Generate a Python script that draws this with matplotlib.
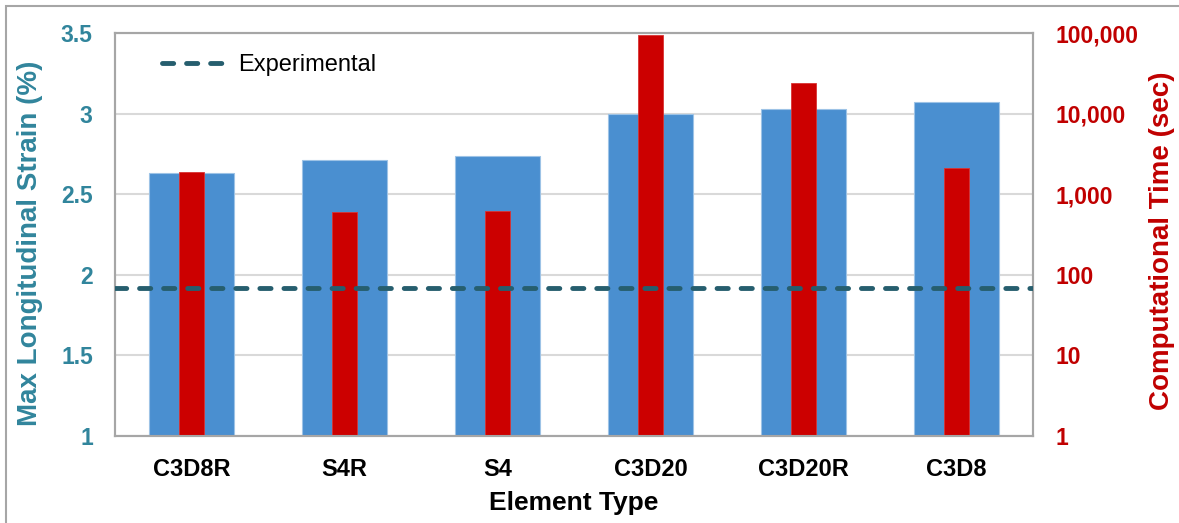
import matplotlib
matplotlib.use("Agg")
import matplotlib.pyplot as plt
import matplotlib.transforms as mtransforms
from matplotlib.patches import Rectangle
from matplotlib.ticker import FuncFormatter, FixedLocator, NullLocator
import numpy as np

plt.rcParams["font.family"] = ["Liberation Sans", "DejaVu Sans"]

elements = ["C3D8R", "S4R", "S4", "C3D20", "C3D20R", "C3D8"]
max_strain = [2.63, 2.71, 2.74, 3.00, 3.03, 3.07]
comp_time = [1890, 610, 615, 95000, 24000, 2130]
experimental = 1.92

strain_ticks = [1, 1.5, 2, 2.5, 3, 3.5]
strain_tick_labels = ["1", "1.5", "2", "2.5", "3", "3.5"]
time_ticks = [1, 10, 100, 1000, 10000, 100000]

BLUE = "#4A8FD0"
RED = "#CC0000"
TEAL = "#31859C"
DARK_RED = "#C00000"
LINE = "#265E6E"
GRID = "#D9D9D9"
SPINE = "#A6A6A6"

W, H = 1179, 523
fig = plt.figure(figsize=(W / 100, H / 100), dpi=100)
ax = fig.add_axes([115 / W, 1 - 436 / H, (1033 - 115) / W, (436 - 33) / H])
ax2 = ax.twinx()

x = np.arange(len(elements))

ax.bar(x, max_strain, width=0.556, color=BLUE, edgecolor="#9DC3E6",
       linewidth=0.8, zorder=2)
ax.set_ylim(1, 3.5)
ax.set_xlim(-0.5, len(elements) - 0.5)
ax.yaxis.set_major_locator(FixedLocator(strain_ticks))
ax.set_yticklabels(strain_tick_labels)
ax.grid(axis="y", color=GRID, linewidth=1.5, zorder=0)
ax.set_axisbelow(True)

ax2.set_yscale("log")
ax2.bar(x, comp_time, width=0.165, color=RED, edgecolor="#D93333",
        linewidth=0.6, zorder=2)
ax2.set_ylim(1, 100000)
ax2.yaxis.set_major_locator(FixedLocator(time_ticks))
ax2.yaxis.set_minor_locator(NullLocator())
ax2.yaxis.set_major_formatter(FuncFormatter(lambda v, p: f"{v:,.0f}"))

# experimental line drawn on top of both bar series
trans = mtransforms.blended_transform_factory(ax2.transAxes, ax.transData)
ax2.plot([0, 1], [experimental, experimental], transform=trans,
         color=LINE, linewidth=3.5, linestyle=(0, (2.3, 2.65)),
         dash_capstyle="round", label="Experimental",
         scalex=False, scaley=False, zorder=5)

ax.set_xticks(x)
ax.set_xticklabels(elements, fontsize=17, fontweight="bold")
ax.tick_params(axis="x", length=0, pad=16)
ax.tick_params(axis="y", length=0, pad=16, labelsize=16.5, labelcolor=TEAL)
for lbl in ax.get_yticklabels():
    lbl.set_fontweight("bold")
ax2.tick_params(axis="y", which="both", length=0, pad=16, labelsize=16.5,
                labelcolor=DARK_RED)
for lbl in ax2.get_yticklabels():
    lbl.set_fontweight("bold")

for a in (ax, ax2):
    for s in a.spines.values():
        s.set_color(SPINE)
        s.set_linewidth(1.5)

ax.set_ylabel("Max Longitudinal Strain (%)", fontsize=20, fontweight="bold",
              color=TEAL)
ax.yaxis.set_label_coords(-0.0926, 0.478)
ax.yaxis.label.set_va("center")
ax2.set_ylabel("Computational Time (sec)", fontsize=20, fontweight="bold",
               color=DARK_RED)
ax2.yaxis.set_label_coords(1.1405, 0.484)
ax2.yaxis.label.set_va("center")
ax.set_xlabel("Element Type", fontsize=19, fontweight="bold")
ax.xaxis.set_label_coords(0.5, -0.166)
ax.xaxis.label.set_va("center")

ax2.legend(loc="center left", bbox_to_anchor=(0.051, 0.92), frameon=False,
           fontsize=17, handlelength=2.67, handletextpad=0.55,
           borderpad=0, borderaxespad=0)

# outer chart border
fig.add_artist(Rectangle((6 / W, -0.1), 1.2, (H - 6) / H + 0.1, fill=False,
                         edgecolor=SPINE, linewidth=1.5,
                         transform=fig.transFigure))

fig.savefig("out.png", dpi=100)
